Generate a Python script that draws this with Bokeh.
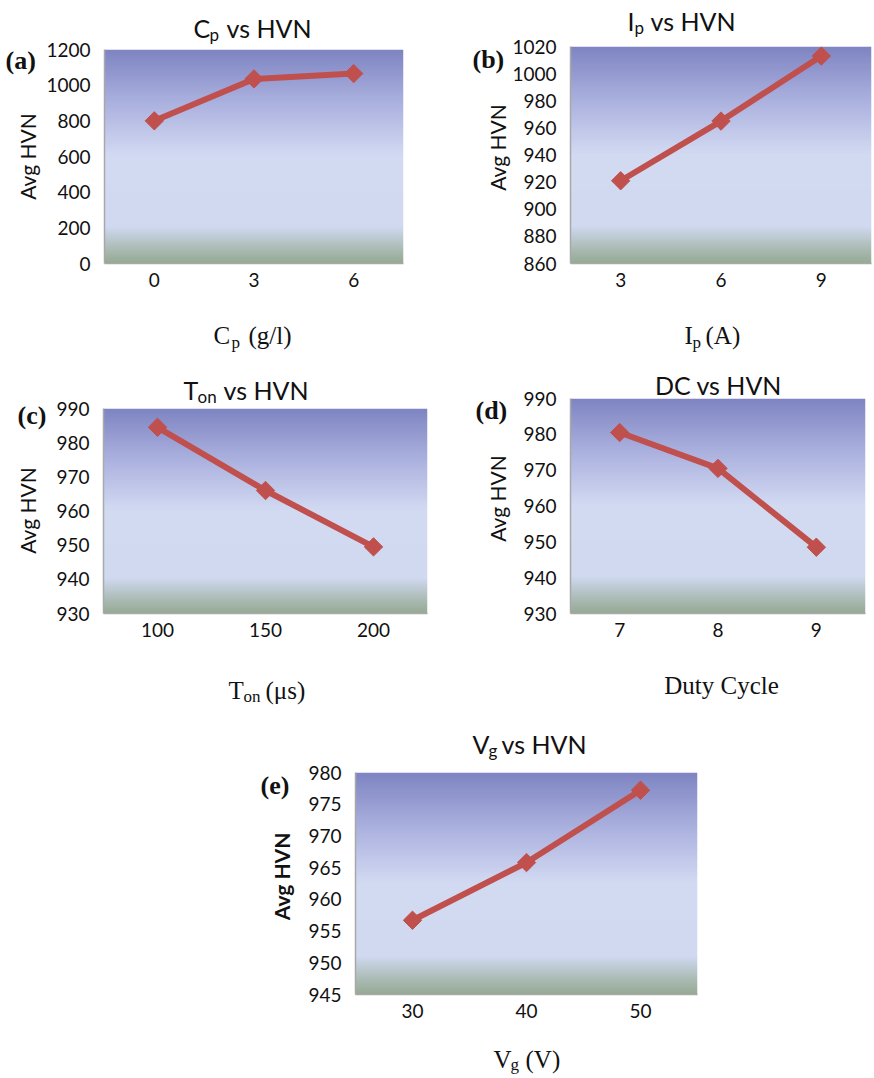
import numpy as np
from bokeh.plotting import figure
from bokeh.models import Label, Range1d, FixedTicker, GridBox
from bokeh.embed import file_html
from bokeh.resources import INLINE

# ---------------- data ----------------
cp_x = [0, 3, 6]
cp_y = [800, 1035, 1065]
cp_yticks = [0, 200, 400, 600, 800, 1000, 1200]

ip_x = [3, 6, 9]
ip_y = [921, 965, 1013]
ip_yticks = [860, 880, 900, 920, 940, 960, 980, 1000, 1020]

ton_x = [100, 150, 200]
ton_y = [984.5, 966, 949.5]
ton_yticks = [930, 940, 950, 960, 970, 980, 990]

dc_x = [7, 8, 9]
dc_y = [980.5, 970.5, 948.5]
dc_yticks = [930, 940, 950, 960, 970, 980, 990]

vg_x = [30, 40, 50]
vg_y = [956.7, 965.8, 977.2]
vg_yticks = [945, 950, 955, 960, 965, 970, 975, 980]

SANS = "Lato"
SERIF = "Liberation Serif"
RED = "#C0504D"
W, H = 874, 1078


def gradient_image(n=320):
    f = np.linspace(0.0, 1.0, n)  # 0 = bottom, 1 = top
    stops = [0.0, 0.07, 0.17, 0.5, 0.75, 1.0]
    r = [150, 172, 208, 211, 172, 127]
    g = [170, 188, 217, 219, 178, 133]
    b = [148, 182, 240, 243, 223, 194]
    img = np.empty((n, 2), dtype=np.uint32)
    v = img.view(dtype=np.uint8).reshape((n, 2, 4))
    for k, ch in enumerate((r, g, b)):
        v[:, :, k] = np.interp(f, stops, ch)[:, None].astype(np.uint8)
    v[:, :, 3] = 255
    return img


def panel(frame, xr, yr, xs, ys, yticks):
    # frame: (left, top, right, bottom) in page pixels; every figure spans the page
    fl, ft, fr, fb = frame
    p = figure(width=W, height=H,
               min_border_left=fl, min_border_right=W - fr,
               min_border_top=ft, min_border_bottom=H - fb,
               x_range=Range1d(*xr), y_range=Range1d(*yr),
               output_backend="svg", toolbar_location=None, tools="")
    p.frame_align = False
    p.outline_line_color = None
    p.grid.visible = False
    p.background_fill_color = "white"
    p.border_fill_alpha = 0
    p.image_rgba(image=[gradient_image()], x=xr[0], y=yr[0],
                 dw=xr[1] - xr[0], dh=yr[1] - yr[0])
    p.line(xs, ys, line_color=RED, line_width=6)
    p.scatter(xs, ys, marker="square", size=13, angle=np.pi / 4,
              fill_color=RED, line_color=RED)
    p.xaxis.ticker = FixedTicker(ticks=list(xs))
    p.yaxis.ticker = FixedTicker(ticks=list(yticks))
    for ax in (p.xaxis[0], p.yaxis[0]):
        ax.major_tick_out = 0
        ax.major_tick_in = 0
        ax.minor_tick_out = 0
        ax.minor_tick_in = 0
        ax.axis_line_color = "#A8A8A8"
        ax.axis_line_width = 1.5
        ax.major_label_text_font = SANS
        ax.major_label_text_font_size = "19px"
        ax.major_label_text_color = "#111111"
    p.yaxis.major_label_standoff = 14
    p.xaxis.major_label_standoff = 9
    return p


pa = panel((104, 49, 403, 263), (-1.5, 7.5), (0, 1200), cp_x, cp_y, cp_yticks)
pb = panel((570, 46, 871, 263), (1.5, 10.5), (860, 1020), ip_x, ip_y, ip_yticks)
pc = panel((103, 408, 427, 613), (75, 225), (930, 990), ton_x, ton_y, ton_yticks)
pd_ = panel((570, 398, 865, 613), (6.5, 9.5), (930, 990), dc_x, dc_y, dc_yticks)
pe = panel((355, 772, 697, 994), (25, 55), (945, 980), vg_x, vg_y, vg_yticks)

# ---------------- text layer (page pixel coordinates, y downwards) ----------------
tl = figure(width=W, height=H, x_range=Range1d(0, W), y_range=Range1d(H, 0),
            min_border_left=0, min_border_right=0, min_border_top=0, min_border_bottom=0,
            x_axis_location=None, y_axis_location=None,
            output_backend="svg", toolbar_location=None, tools="")
tl.frame_align = False
tl.grid.visible = False
tl.outline_line_color = None
tl.background_fill_alpha = 0
tl.border_fill_alpha = 0


def txt(x, y, text, font=SANS, size=25, style="normal", align="left",
        baseline="alphabetic", angle=0.0):
    tl.add_layout(Label(x=x, y=y, text=text, text_font=font,
                        text_font_size=f"{size}px", text_font_style=style,
                        text_align=align, text_baseline=baseline, angle=angle,
                        text_color="#111111"))


ROT = np.pi / 2
LET = 26  # panel letter size

# (a)
txt(193, 27, "C"); txt(209, 34, "p", size=17); txt(226, 27, "vs HVN")
txt(5, 60, "(a)", font=SERIF, size=LET, style="bold")
txt(27, 156, "Avg HVN", size=21, align="center", baseline="middle", angle=ROT)
txt(213, 335, "C", font=SERIF); txt(231, 342, "p", font=SERIF, size=17)
txt(248, 335, "(g/l)", font=SERIF)

# (b)
txt(627, 20, "I"); txt(634, 27, "p", size=17); txt(650, 20, "vs HVN")
txt(472, 59, "(b)", font=SERIF, size=LET, style="bold")
txt(497, 147, "Avg HVN", size=21, align="center", baseline="middle", angle=ROT)
txt(684, 335, "I", font=SERIF); txt(692, 342, "p", font=SERIF, size=17)
txt(705, 335, "(A)", font=SERIF)

# (c)
txt(183, 389, "T"); txt(197, 396, "on", size=17); txt(223, 389, "vs HVN")
txt(17, 415, "(c)", font=SERIF, size=LET, style="bold")
txt(27, 510, "Avg HVN", size=21, align="center", baseline="middle", angle=ROT)
txt(228, 690, "T", font=SERIF); txt(243, 696, "on", font=SERIF, size=17)
txt(265, 690, "(\u03bcs)", font=SERIF)

# (d)
txt(718, 384, "DC vs HVN", align="center")
txt(475, 410, "(d)", font=SERIF, size=LET, style="bold")
txt(497, 498, "Avg HVN", size=21, align="center", baseline="middle", angle=ROT)
txt(721, 685, "Duty Cycle", font=SERIF, align="center")

# (e)
txt(472, 743, "V"); txt(488, 750, "g", size=17); txt(501, 743, "vs HVN")
txt(260, 785, "(e)", font=SERIF, size=LET, style="bold")
txt(281, 876, "Avg HVN", size=21, style="bold", align="center", baseline="middle", angle=ROT)
txt(493, 1059, "V", font=SERIF); txt(510, 1064, "g", font=SERIF, size=17)
txt(525, 1059, "(V)", font=SERIF)

layout = GridBox(children=[(pa, 0, 0), (pb, 0, 0), (pc, 0, 0), (pd_, 0, 0),
                           (pe, 0, 0), (tl, 0, 0)])

open("out.html", "w").write(file_html(layout, INLINE))
